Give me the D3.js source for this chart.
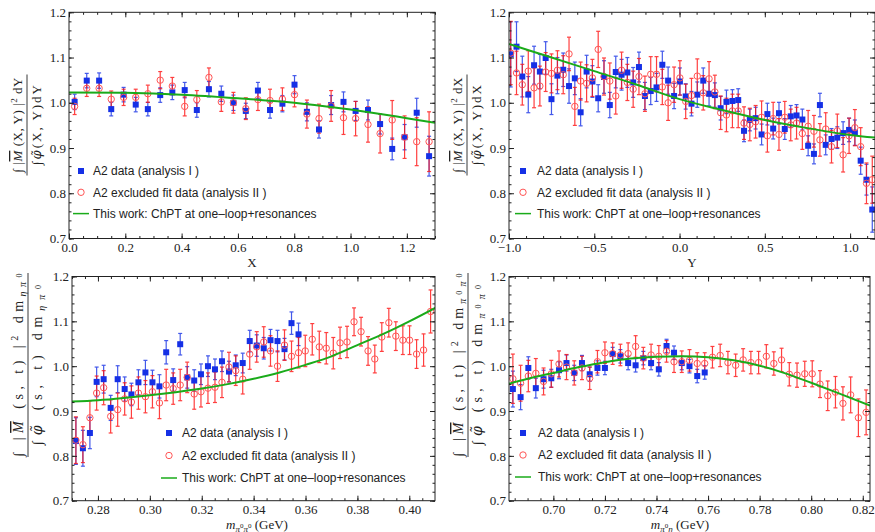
<!DOCTYPE html>
<html>
<head>
<meta charset="utf-8">
<script src="https://cdn.jsdelivr.net/npm/d3@7"></script>
<style>
  body { margin: 0; background: #fff; }
  svg { display: block; }
</style>
</head>
<body>
<div id="chart"></div>
<script>
// ---- shared ticks / labels ----
const yTickVals = [0.7, 0.8, 0.9, 1.0, 1.1, 1.2];
const xTicksX = [0.0, 0.2, 0.4, 0.6, 0.8, 1.0, 1.2];
const xTicksY = [-1.0, -0.5, 0.0, 0.5, 1.0];
const xTicksM1 = [0.28, 0.30, 0.32, 0.34, 0.36, 0.38, 0.40];
const xTicksM2 = [0.70, 0.72, 0.74, 0.76, 0.78, 0.80, 0.82];
const legendLabels = ["A2 data (analysis I )", "A2 excluded fit data (analysis II )", "This work: ChPT at one\u2013loop+resonances"];

// ---- panel (a): X ----
const binsX = [0.020, 0.063, 0.107, 0.150, 0.194, 0.237, 0.280, 0.324, 0.367, 0.411, 0.454, 0.497, 0.541, 0.584, 0.628,
               0.671, 0.714, 0.758, 0.801, 0.845, 0.888, 0.931, 0.975, 1.018, 1.062, 1.105, 1.148, 1.192, 1.235, 1.279];
const blueX = [1.002, 1.049, 1.049, 0.986, 1.018, 0.996, 0.986, 1.017, 1.023, 1.028, 0.984, 1.030, 1.020, 1.000, 0.982,
               1.027, 0.984, 0.998, 1.040, 0.980, 0.941, 0.995, 1.002, 0.982, 0.984, 0.953, 0.898, 0.924, 0.978, 0.882];
const blueErrX = [0.017, 0.016, 0.017, 0.015, 0.016, 0.016, 0.015, 0.016, 0.016, 0.017, 0.016, 0.017, 0.017, 0.017, 0.017,
                  0.018, 0.018, 0.018, 0.020, 0.020, 0.019, 0.021, 0.022, 0.021, 0.022, 0.022, 0.024, 0.028, 0.032, 0.044];
const redX = [0.992, 1.032, 1.032, 1.008, 1.012, 1.012, 1.020, 1.050, 1.037, 0.992, 1.007, 1.056, 1.002, 1.000, 0.987,
              1.007, 1.005, 1.008, 1.018, 0.975, 0.965, 0.993, 0.967, 0.965, 0.952, 0.932, 0.962, 0.924, 0.914, 0.914];
const redErrX = [0.018, 0.018, 0.018, 0.018, 0.018, 0.018, 0.019, 0.019, 0.019, 0.021, 0.020, 0.021, 0.021, 0.023, 0.024,
                 0.024, 0.025, 0.025, 0.027, 0.031, 0.032, 0.034, 0.037, 0.038, 0.039, 0.043, 0.043, 0.047, 0.053, 0.066];
const curveXx = [0, 0.2, 0.4, 0.6, 0.8, 0.9, 1.0, 1.1, 1.2, 1.3];
const curveXv = [1.023, 1.022, 1.018, 1.010, 1.000, 0.993, 0.985, 0.976, 0.966, 0.956];

// ---- panel (b): Y ----
const binsY = [-0.990, -0.956, -0.922, -0.887, -0.853, -0.819, -0.785, -0.751, -0.716, -0.682, -0.648, -0.614, -0.580,
               -0.545, -0.511, -0.477, -0.443, -0.409, -0.374, -0.340, -0.306, -0.272, -0.238, -0.203, -0.169, -0.135,
               -0.101, -0.067, -0.032, 0.002, 0.036, 0.070, 0.104, 0.139, 0.173, 0.207, 0.241, 0.275, 0.310, 0.344,
               0.378, 0.412, 0.446, 0.481, 0.515, 0.549, 0.583, 0.617, 0.652, 0.686, 0.720, 0.754, 0.788, 0.823,
               0.857, 0.891, 0.925, 0.959, 0.994, 1.028, 1.062, 1.096, 1.130];
const blueY = [1.107, 1.124, 1.058, 1.018, 1.083, 1.069, 1.099, 1.008, 1.060, 1.073, 1.037, 1.054, 0.979,
               1.069, 1.047, 1.010, 1.057, 0.995, 1.068, 1.062, 1.067, 1.045, 1.079, 1.015, 1.026, 1.034,
               1.084, 1.049, 1.015, 1.047, 1.014, 0.998, 1.018, 1.049, 1.020, 1.017, 0.988, 1.002, 1.004, 1.006,
               0.938, 0.962, 0.966, 0.930, 0.975, 0.943, 0.977, 0.942, 0.970, 0.972, 0.963, 0.905, 0.887, 0.995,
               0.907, 0.920, 0.923, 0.933, 0.940, 0.934, 0.872, 0.830, 0.764];
const blueErrY = [0.072, 0.055, 0.045, 0.040, 0.042, 0.038, 0.036, 0.034, 0.040, 0.037, 0.038, 0.036, 0.030,
                  0.036, 0.035, 0.030, 0.036, 0.028, 0.035, 0.034, 0.033, 0.033, 0.033, 0.030, 0.030, 0.031,
                  0.030, 0.030, 0.028, 0.030, 0.028, 0.027, 0.028, 0.028, 0.027, 0.027, 0.026, 0.026, 0.025, 0.025,
                  0.024, 0.024, 0.024, 0.023, 0.024, 0.023, 0.024, 0.023, 0.024, 0.024, 0.023, 0.022, 0.022, 0.026,
                  0.022, 0.023, 0.024, 0.025, 0.026, 0.028, 0.030, 0.034, 0.050];
const redY = [1.110, 1.066, 1.040, 1.070, 1.033, 1.037, 1.068, 1.065, 1.072, 1.062, 1.108, 0.992, 1.048,
              1.043, 1.055, 1.118, 1.058, 1.048, 1.015, 1.072, 1.045, 1.030, 1.058, 1.020, 1.063, 1.063,
              1.035, 1.000, 1.040, 1.055, 1.003, 1.016, 1.059, 1.022, 1.053, 1.024, 0.978, 0.973, 0.982, 0.982,
              0.955, 0.952, 0.958, 0.968, 0.927, 0.965, 0.930, 0.968, 0.951, 0.955, 0.932, 0.948, 0.937, 0.918,
              0.942, 0.903, 0.938, 0.885, 0.927, 0.945, 0.903, 0.822, 0.830];
const redErrY = [0.070, 0.048, 0.045, 0.045, 0.044, 0.044, 0.043, 0.043, 0.043, 0.042, 0.037, 0.042, 0.042,
                 0.041, 0.041, 0.040, 0.041, 0.040, 0.040, 0.040, 0.040, 0.040, 0.040, 0.039, 0.039, 0.039,
                 0.039, 0.039, 0.039, 0.038, 0.038, 0.038, 0.038, 0.038, 0.038, 0.037, 0.037, 0.037, 0.037, 0.037,
                 0.036, 0.036, 0.036, 0.036, 0.036, 0.036, 0.035, 0.035, 0.035, 0.035, 0.035, 0.035, 0.035, 0.036,
                 0.036, 0.036, 0.037, 0.038, 0.039, 0.040, 0.042, 0.045, 0.052];
const curveYx = [-1.0, -0.75, -0.5, -0.25, 0.0, 0.25, 0.5, 0.75, 1.0, 1.146];
const curveYv = [1.130, 1.100, 1.070, 1.040, 1.008, 0.984, 0.962, 0.944, 0.929, 0.923];

// ---- panel (c): m(pi0 pi0) ----
const binsM1 = [0.2715, 0.2742, 0.2769, 0.2795, 0.2822, 0.2849, 0.2876, 0.2903, 0.2929, 0.2956, 0.2983, 0.3010, 0.3037,
                0.3063, 0.3090, 0.3117, 0.3144, 0.3171, 0.3197, 0.3224, 0.3251, 0.3278, 0.3305, 0.3331, 0.3358, 0.3385,
                0.3412, 0.3439, 0.3465, 0.3492, 0.3519, 0.3546, 0.3573, 0.3599, 0.3626, 0.3653, 0.3680, 0.3707, 0.3733,
                0.3760, 0.3787, 0.3814, 0.3841, 0.3867, 0.3894, 0.3921, 0.3948, 0.3975, 0.4001, 0.4028, 0.4055, 0.4082];
const blueM1 = [0.833, 0.817, 0.851, 0.965, 0.971, 0.907, 0.971, 0.949, 0.937, 0.964, 0.986, 0.964, 0.955, 1.031, 0.969,
                1.049, 0.975, 0.968, 0.982, 1.000, 0.993, 1.011, 0.988, 1.002, 1.007, 1.056, 1.046, 1.040, 1.058, 1.056,
                1.038, 1.096, 1.071];
const blueErrM1 = [0.052, 0.040, 0.035, 0.033, 0.031, 0.028, 0.030, 0.027, 0.025, 0.028, 0.027, 0.027, 0.026, 0.026, 0.025,
                   0.024, 0.024, 0.024, 0.023, 0.023, 0.023, 0.023, 0.023, 0.023, 0.022, 0.024, 0.024, 0.024, 0.024, 0.024,
                   0.024, 0.025, 0.025];
const redM1 = [0.835, 0.825, 0.885, 0.940, 0.952, 0.888, 0.903, 0.927, 0.920, 0.940, 0.932, 0.943, 0.918, 0.958, 0.950,
               0.958, 0.975, 0.938, 0.943, 0.951, 0.953, 0.964, 0.998, 0.990, 0.971, 1.027, 1.043, 1.054, 1.034, 1.000,
               1.047, 1.022, 1.030, 1.034, 1.060, 1.043, 1.040, 1.029, 1.052, 1.054, 1.099, 1.077, 1.034, 1.016, 1.065,
               1.097, 1.067, 1.058, 1.058, 1.027, 1.036, 1.122];
const redErrM1 = [0.052, 0.040, 0.038, 0.038, 0.038, 0.037, 0.037, 0.036, 0.036, 0.036, 0.036, 0.036, 0.035, 0.035, 0.035,
                  0.035, 0.034, 0.034, 0.034, 0.034, 0.034, 0.034, 0.033, 0.033, 0.033, 0.034, 0.034, 0.034, 0.034, 0.034,
                  0.034, 0.034, 0.034, 0.035, 0.035, 0.035, 0.035, 0.035, 0.035, 0.035, 0.031, 0.032, 0.032, 0.031, 0.032,
                  0.032, 0.032, 0.032, 0.032, 0.032, 0.036, 0.048];
const curveM1x = [0.27, 0.28, 0.29, 0.30, 0.31, 0.32, 0.33, 0.34, 0.35, 0.36, 0.37, 0.38, 0.39, 0.40, 0.41];
const curveM1v = [0.921, 0.924, 0.929, 0.935, 0.942, 0.950, 0.960, 0.972, 0.986, 1.003, 1.022, 1.047, 1.072, 1.100, 1.130];

// ---- panel (d): m(pi0 eta) ----
const binsM2 = [0.6843, 0.6873, 0.6903, 0.6932, 0.6962, 0.6992, 0.7022, 0.7051, 0.7081, 0.7111, 0.7141, 0.7171, 0.7200,
                0.7230, 0.7260, 0.7290, 0.7319, 0.7349, 0.7379, 0.7409, 0.7439, 0.7468, 0.7498, 0.7528, 0.7558, 0.7587,
                0.7617, 0.7647, 0.7677, 0.7707, 0.7736, 0.7766, 0.7796, 0.7826, 0.7855, 0.7885, 0.7915, 0.7945, 0.7975,
                0.8004, 0.8034, 0.8064, 0.8094, 0.8123, 0.8153, 0.8183, 0.8213];
const blueM2 = [0.949, 0.931, 0.996, 0.951, 0.971, 0.973, 0.991, 1.007, 0.985, 1.007, 0.982, 0.996, 0.996, 1.027, 1.022,
                1.007, 1.002, 1.018, 1.007, 0.993, 1.045, 1.030, 1.007, 1.000, 0.978, 0.986];
const blueErrM2 = [0.040, 0.028, 0.025, 0.022, 0.020, 0.020, 0.019, 0.018, 0.017, 0.017, 0.016, 0.016, 0.015, 0.015, 0.015,
                   0.015, 0.015, 0.015, 0.015, 0.015, 0.015, 0.015, 0.015, 0.015, 0.015, 0.015];
const redM2 = [0.972, 0.962, 0.978, 0.984, 0.966, 0.983, 1.005, 0.998, 0.985, 0.996, 0.973, 1.010, 1.030, 1.028, 1.025,
               1.028, 1.044, 1.018, 1.025, 1.022, 1.033, 1.010, 1.010, 1.013, 1.006, 1.006, 1.020, 1.024, 1.008, 1.002,
               1.014, 1.008, 1.008, 1.022, 1.006, 1.014, 0.982, 0.980, 0.983, 0.983, 0.960, 0.934, 0.942, 0.917, 0.936,
               0.885, 0.897];
const redErrM2 = [0.055, 0.040, 0.035, 0.033, 0.030, 0.030, 0.029, 0.028, 0.027, 0.026, 0.025, 0.025, 0.024, 0.024, 0.024,
                  0.024, 0.024, 0.024, 0.024, 0.024, 0.024, 0.024, 0.024, 0.024, 0.024, 0.024, 0.024, 0.025, 0.025, 0.025,
                  0.025, 0.025, 0.025, 0.026, 0.026, 0.026, 0.026, 0.027, 0.028, 0.029, 0.030, 0.033, 0.035, 0.037, 0.040,
                  0.042, 0.050];
const curveM2x = [0.6828, 0.69, 0.70, 0.71, 0.72, 0.73, 0.74, 0.75, 0.76, 0.77, 0.78, 0.79, 0.80, 0.81, 0.8228];
const curveM2v = [0.961, 0.972, 0.985, 0.998, 1.009, 1.017, 1.021, 1.022, 1.020, 1.013, 1.001, 0.984, 0.963, 0.941, 0.912];

const SERIF = "'Liberation Serif', 'DejaVu Serif', serif";
const SANS = "'Liberation Sans', Arial, sans-serif";
const BLUE = "#1530e6", RED = "#ff1010", RED_MARK = "#ff5555", GREEN = "#1aab1a", INK = "#222";

// label pieces: t = text, s = baseline shift, z = font size, it = italic, ov = overline, f = font
const subEtaPi = [{t: "\u03B7\u03C0", s: 3, z: 10, it: 1}, {t: "0", s: -1, z: 8}];
const subPiPi = [{t: "\u03C0", s: 3, z: 10, it: 1}, {t: "0", s: -1, z: 8}, {t: "\u03C0", s: 3, z: 10, it: 1}, {t: "0", s: -1, z: 8}];
const phiTilde = {t: "\u03C6\u0303", it: 1, f: "'DejaVu Serif', serif"};
const numXY = v => [{t: "\u222B |"}, {t: "M", it: 1, ov: 1}, {t: " (X, Y) |"}, {t: "2", s: -5, z: 9}, {t: " d" + v}];
const denXY = v => [{t: "\u222B"}, phiTilde, {t: "(X, Y)d" + v}];
const numST = sub => [{t: "\u222B |"}, {t: "M", it: 1, ov: 1}, {t: " (s, t) |"}, {t: "2", s: -5, z: 10}, {t: " dm"}].concat(sub);
const denST = sub => [{t: "\u222B"}, phiTilde, {t: " (s, t) dm"}].concat(sub);

function addPieces(text, pieces) {
  let cur = 0;
  pieces.forEach(p => {
    let s = p.s || 0;
    let t = text.append("tspan").attr("dy", s - cur).text(p.t);
    cur = s;
    if (p.z) t.attr("font-size", p.z);
    if (p.it) t.attr("font-style", "italic");
    if (p.f) t.attr("font-family", p.f);
    if (p.ov) t.style("text-decoration", "overline");
  });
}

class RatioPanel {
  constructor(svg, cfg) {
    this.cfg = cfg;
    this.g = svg.append("g");
    this.xScale = d3.scaleLinear().domain(cfg.xDomain).range([cfg.left, cfg.right]);
    this.yScale = d3.scaleLinear()
                    .domain([yTickVals[0], yTickVals[yTickVals.length - 1]])
                    .range([cfg.bottom, cfg.top]);
    this.g.append("clipPath").attr("id", "clip-" + cfg.name)
          .append("rect")
          .attr("x", cfg.left).attr("y", cfg.top)
          .attr("width", cfg.right - cfg.left).attr("height", cfg.bottom - cfg.top);
    this.plot = this.g.append("g").attr("clip-path", "url(#clip-" + cfg.name + ")");
  }

  minorTicks(domain, step) {
    let lo = Math.ceil(domain[0] / step - 1e-6), hi = Math.floor(domain[1] / step + 1e-6);
    return d3.range(lo, hi + 1).map(i => +(i * step).toFixed(4));
  }

  drawAxes() {
    let c = this.cfg, x = this.xScale, y = this.yScale;
    let xMinor = this.minorTicks(c.xDomain, c.xMinor);
    let yMinor = this.minorTicks(y.domain(), 0.02);
    let clean = g => {
      g.select(".domain").remove();
      g.selectAll("line").attr("stroke", INK);
      g.selectAll("text").attr("font-family", SERIF).attr("font-size", 13).attr("fill", INK);
    };
    let add = (axis, tr) => this.g.append("g").attr("transform", tr).call(axis).call(clean);
    let bottom = "translate(0," + c.bottom + ")", top = "translate(0," + c.top + ")";
    let left = "translate(" + c.left + ",0)", right = "translate(" + c.right + ",0)";

    add(d3.axisBottom(x).tickValues(c.xTicks).tickFormat(d3.format(c.xFmt)).tickSize(-5).tickPadding(4), bottom);
    add(d3.axisBottom(x).tickValues(xMinor).tickFormat("").tickSize(-2.5), bottom);
    add(d3.axisTop(x).tickValues(c.xTicks).tickFormat("").tickSize(-5), top);
    add(d3.axisTop(x).tickValues(xMinor).tickFormat("").tickSize(-2.5), top);
    add(d3.axisLeft(y).tickValues(yTickVals).tickFormat(d3.format(".1f")).tickSize(-5).tickPadding(3), left);
    add(d3.axisLeft(y).tickValues(yMinor).tickFormat("").tickSize(-2.5), left);
    add(d3.axisRight(y).tickValues(yTickVals).tickFormat("").tickSize(-5), right);
    add(d3.axisRight(y).tickValues(yMinor).tickFormat("").tickSize(-2.5), right);

    this.g.append("rect")
          .attr("x", c.left).attr("y", c.top)
          .attr("width", c.right - c.left).attr("height", c.bottom - c.top)
          .attr("fill", "none").attr("stroke", INK).attr("stroke-width", 1);
  }

  drawBars(xs, vals, errs, color, opacity) {
    let x = this.xScale, y = this.yScale;
    let pts = vals.map((v, i) => ({x: xs[i], lo: v - errs[i], hi: v + errs[i]}));
    let g = this.plot.append("g")
                .attr("stroke", color).attr("stroke-width", 1.2).attr("opacity", opacity);
    g.selectAll(".eb").data(pts).enter().append("line")
     .attr("x1", d => x(d.x)).attr("x2", d => x(d.x))
     .attr("y1", d => y(d.lo)).attr("y2", d => y(d.hi));
    ["lo", "hi"].forEach(k => {
      g.selectAll(".cap-" + k).data(pts).enter().append("line")
       .attr("x1", d => x(d.x) - 2).attr("x2", d => x(d.x) + 2)
       .attr("y1", d => y(d[k])).attr("y2", d => y(d[k]));
    });
  }

  drawSquares(xs, vals) {
    this.plot.append("g").selectAll("rect").data(vals).enter().append("rect")
        .attr("x", (d, i) => this.xScale(xs[i]) - 3)
        .attr("y", d => this.yScale(d) - 3)
        .attr("width", 6).attr("height", 6)
        .attr("fill", BLUE);
  }

  drawCircles(xs, vals) {
    this.plot.append("g").selectAll("circle").data(vals).enter().append("circle")
        .attr("cx", (d, i) => this.xScale(xs[i]))
        .attr("cy", d => this.yScale(d))
        .attr("r", 3.2)
        .attr("fill", "none").attr("stroke", RED_MARK).attr("stroke-width", 1);
  }

  drawCurve(cx, cv) {
    let line = d3.line()
                 .x((d, i) => this.xScale(cx[i]))
                 .y(d => this.yScale(d))
                 .curve(d3.curveMonotoneX);
    this.plot.append("path").datum(cv)
        .attr("d", line)
        .attr("fill", "none").attr("stroke", GREEN).attr("stroke-width", 2);
  }

  drawLegend() {
    let L = this.cfg.legend;
    let g = this.g.append("g").attr("font-family", SANS).attr("font-size", 12).attr("fill", INK);
    g.append("rect").attr("x", L.mx - 3).attr("y", L.y0 - 3).attr("width", 6).attr("height", 6).attr("fill", BLUE);
    g.append("circle").attr("cx", L.mx).attr("cy", L.y0 + L.dy).attr("r", 3.2)
     .attr("fill", "none").attr("stroke", RED_MARK).attr("stroke-width", 1);
    g.append("line").attr("x1", L.mx - 8).attr("x2", L.mx + 8)
     .attr("y1", L.y0 + 2 * L.dy).attr("y2", L.y0 + 2 * L.dy)
     .attr("stroke", GREEN).attr("stroke-width", 1.5);
    g.selectAll("text").data(legendLabels).enter().append("text")
     .attr("x", L.tx).attr("y", (d, i) => L.y0 + i * L.dy).attr("dy", "0.35em")
     .text(d => d);
  }

  drawLabels() {
    let c = this.cfg;
    let xl = this.g.append("text")
                 .attr("x", c.xLabelPos[0]).attr("y", c.xLabelPos[1])
                 .attr("text-anchor", "middle")
                 .attr("font-family", SERIF).attr("font-size", 13).attr("fill", INK);
    addPieces(xl, c.xLabel);

    let lab = this.g.append("g")
                  .attr("transform", "translate(" + c.barX + "," + c.labelY + ") rotate(-90)")
                  .attr("font-family", SERIF).attr("font-size", c.labelSize).attr("fill", INK);
    lab.append("line").attr("x1", -c.barLen / 2).attr("x2", c.barLen / 2)
       .attr("stroke", INK).attr("stroke-width", 0.9);
    let num = lab.append("text").attr("x", -c.numLen / 2).attr("y", -5)
                 .attr("textLength", c.numLen).attr("lengthAdjust", "spacing");
    addPieces(num, c.num);
    let den = lab.append("text").attr("x", -c.denLen / 2).attr("y", 14)
                 .attr("textLength", c.denLen).attr("lengthAdjust", "spacing");
    addPieces(den, c.den);
  }
}

let svg = d3.select("#chart").append("svg").attr("width", 875).attr("height", 532);

const panels = [
  {cfg: {name: "a", left: 69, right: 435, top: 12.3, bottom: 238.5, xDomain: [0, 1.30], xTicks: xTicksX, xFmt: ".1f",
         xMinor: 0.05, xLabel: [{t: "X"}], xLabelPos: [252, 267],
         barX: 27, labelY: 125, barLen: 101, numLen: 95, denLen: 80, labelSize: 13, num: numXY("Y"), den: denXY("Y"),
         legend: {mx: 81, tx: 93, y0: 171, dy: 21.3}},
   bins: binsX, blue: blueX, blueErr: blueErrX, red: redX, redErr: redErrX, cx: curveXx, cv: curveXv},
  {cfg: {name: "b", left: 509, right: 875, top: 12.3, bottom: 238.5, xDomain: [-1, 1.146], xTicks: xTicksY, xFmt: ".1f",
         xMinor: 0.1, xLabel: [{t: "Y"}], xLabelPos: [692, 267],
         barX: 467, labelY: 125, barLen: 101, numLen: 95, denLen: 80, labelSize: 13, num: numXY("X"), den: denXY("X"),
         legend: {mx: 523, tx: 537, y0: 171, dy: 21.3}},
   bins: binsY, blue: blueY, blueErr: blueErrY, red: redY, redErr: redErrY, cx: curveYx, cv: curveYv},
  {cfg: {name: "c", left: 72, right: 435, top: 276.5, bottom: 500.7, xDomain: [0.27, 0.4099], xTicks: xTicksM1, xFmt: ".2f",
         xMinor: 0.005,
         xLabel: [{t: "m", it: 1}, {t: "\u03C0", s: 2.5, z: 9, it: 1}, {t: "0", s: -1, z: 7}, {t: "\u03C0", s: 2.5, z: 9, it: 1},
                  {t: "0", s: -1, z: 7}, {t: " (GeV)", s: 0}], xLabelPos: [257, 529],
         barX: 28, labelY: 365, barLen: 184, numLen: 183, denLen: 160, labelSize: 14, num: numST(subEtaPi), den: denST(subEtaPi),
         legend: {mx: 169, tx: 182, y0: 433, dy: 22.5}},
   bins: binsM1, blue: blueM1, blueErr: blueErrM1, red: redM1, redErr: redErrM1, cx: curveM1x, cv: curveM1v},
  {cfg: {name: "d", left: 509, right: 870, top: 276.5, bottom: 500.7, xDomain: [0.6828, 0.8228], xTicks: xTicksM2, xFmt: ".2f",
         xMinor: 0.005,
         xLabel: [{t: "m", it: 1}, {t: "\u03C0", s: 2.5, z: 9, it: 1}, {t: "0", s: -1, z: 7}, {t: "\u03B7", s: 2.5, z: 9, it: 1},
                  {t: " (GeV)", s: 0}], xLabelPos: [680, 529],
         barX: 468, labelY: 365, barLen: 184, numLen: 183, denLen: 160, labelSize: 14, num: numST(subPiPi), den: denST(subPiPi),
         legend: {mx: 523, tx: 538, y0: 433, dy: 22}},
   bins: binsM2, blue: blueM2, blueErr: blueErrM2, red: redM2, redErr: redErrM2, cx: curveM2x, cv: curveM2v}
];

panels.forEach(p => {
  let chart = new RatioPanel(svg, p.cfg);
  chart.drawBars(p.bins, p.blue, p.blueErr, BLUE, 0.8);
  chart.drawBars(p.bins, p.red, p.redErr, RED, 0.8);
  chart.drawSquares(p.bins, p.blue);
  chart.drawCircles(p.bins, p.red);
  chart.drawCurve(p.cx, p.cv);
  chart.drawAxes();
  chart.drawLegend();
  chart.drawLabels();
});
</script>
</body>
</html>
